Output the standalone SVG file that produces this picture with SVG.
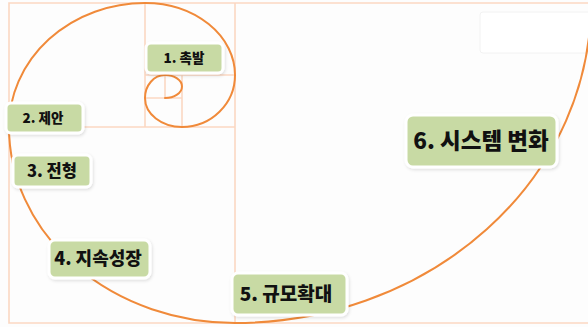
<svg xmlns="http://www.w3.org/2000/svg" width="588" height="327" viewBox="0 0 588 327">
<defs>
<filter id="sh" x="-20%" y="-30%" width="140%" height="160%">
<feDropShadow dx="1" dy="1.5" stdDeviation="1.5" flood-color="#000" flood-opacity="0.12"/>
</filter>
</defs>
<style>
.grid{fill:none;stroke:#fbd8c2;stroke-width:1.6}
.spiral{fill:none;stroke:#f08a3a;stroke-width:2;stroke-linecap:round}
.box{fill:#c8daa4;stroke:#ffffff;stroke-width:3;filter:url(#sh)}
.lbl{font-family:"Noto Sans CJK KR","Noto Sans",sans-serif;font-weight:900;fill:#111;text-anchor:middle}
</style>
<rect width="588" height="327" fill="#fdfdfd"/>
<g id="grid" class="grid">
<path d="M 600 3 H 9 V 323 H 600"/>
<path d="M 145 3 V 127 M 235 3 V 323 M 9 127 H 235 M 145 75 H 235 M 182 75 V 127 M 145 98 H 182 M 165 75 V 98"/>
</g>
<rect x="480" y="12" width="112" height="41" rx="3" fill="#ffffff" stroke="#f2f2f2" stroke-width="1"/>
<g id="connectors">
<path class="spiral" d="M 591 3 A 356 320 0 0 1 235 323 A 226 196 0 0 1 9 127 A 136 124 0 0 1 145 3 A 90 72 0 0 1 235 75 A 53 52 0 0 1 182 127 A 37 29 0 0 1 145 98 A 20 23 0 0 1 165 75 A 17 11.5 0 0 1 165 98"/>
</g>
<g id="n1"><rect class="box" x="146" y="43" width="77" height="30" rx="5"/><text class="lbl" x="184" y="63" font-size="13.5">1. 촉발</text></g>
<g id="n2"><rect class="box" x="6" y="103" width="77" height="30" rx="5"/><text class="lbl" x="43" y="123" font-size="13.5">2. 제안</text></g>
<g id="n3"><rect class="box" x="13" y="155" width="78" height="32" rx="5"/><text class="lbl" x="52" y="177" font-size="16.5">3. 전형</text></g>
<g id="n4"><rect class="box" x="49" y="240" width="101" height="38" rx="6"/><text class="lbl" x="98" y="265" font-size="18">4. 지속성장</text></g>
<g id="n5"><rect class="box" x="232" y="273" width="115" height="42" rx="6"/><text class="lbl" x="286" y="301" font-size="19">5. 규모확대</text></g>
<g id="n6"><rect class="box" x="406" y="115" width="151" height="52" rx="7"/><text class="lbl" x="481" y="149" font-size="22.5">6. 시스템 변화</text></g>
</svg>
